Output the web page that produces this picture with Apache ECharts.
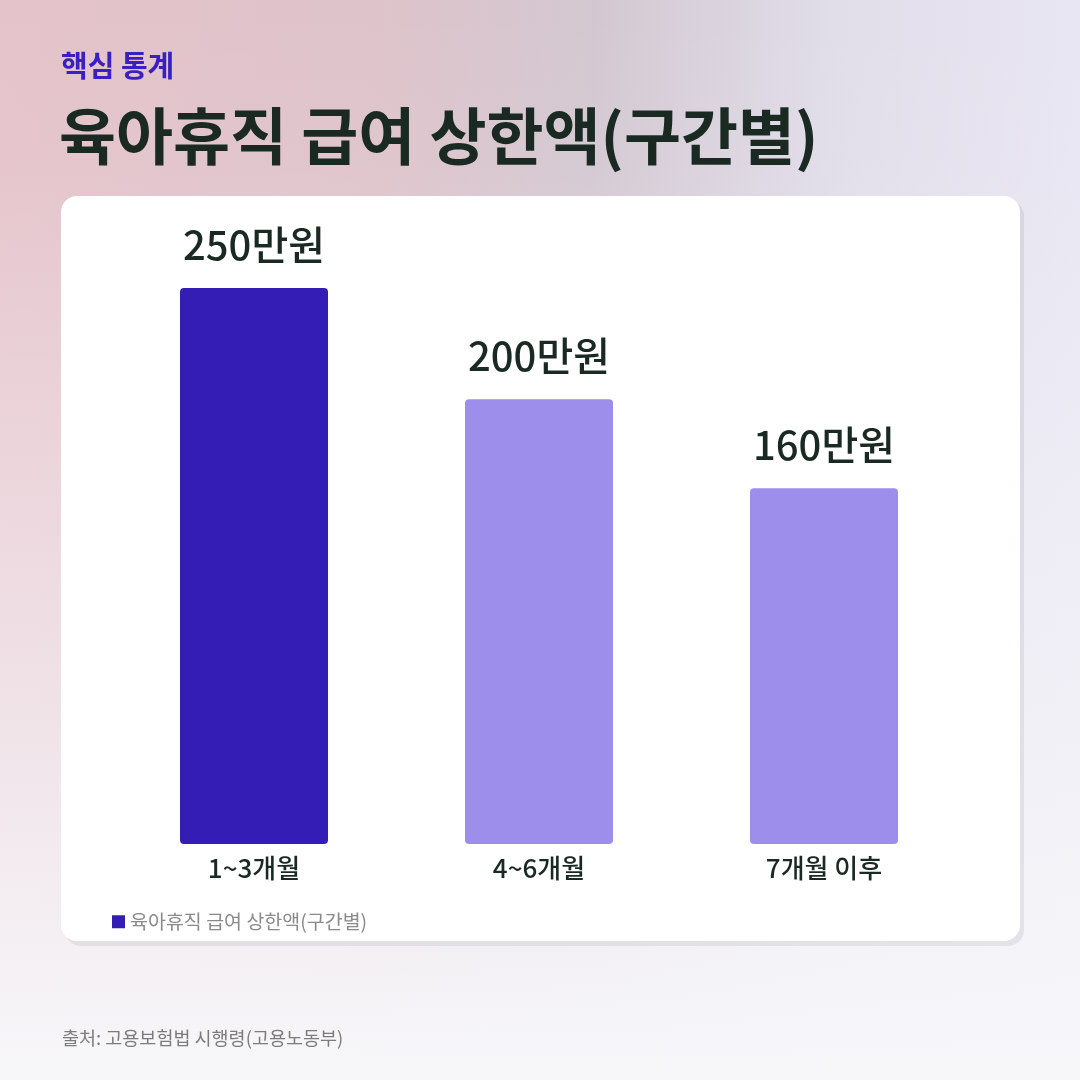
<!DOCTYPE html>
<html><head><meta charset="utf-8">
<script src="https://cdn.jsdelivr.net/npm/echarts@6/dist/echarts.min.js"></script>
<style>html,body{margin:0;padding:0;width:1080px;height:1080px;overflow:hidden}#c{width:1080px;height:1080px}</style>
</head><body><div id="c"></div>
<script>
const categories = ['1~3개월', '4~6개월', '7개월 이후'];
const values = [250, 200, 160];
const valueLabels = ['250만원', '200만원', '160만원'];
const seriesName = '육아휴직 급여 상한액(구간별)';
const kicker = '핵심 통계';
const titleText = '육아휴직 급여 상한액(구간별)';
const sourceText = '출처: 고용보험법 시행령(고용노동부)';

const FONT = '"Noto Sans CJK KR", "Noto Sans", sans-serif';
const DARK = '#1a2a22';
const barColors = ['#331db5', '#9c8eea', '#9c8eea'];

const chart = echarts.init(document.getElementById('c'));
chart.setOption({
  animation: false,
  textStyle: { fontFamily: FONT },
  graphic: [
    { type: 'rect', z: -10, shape: { x: 0, y: 0, width: 1080, height: 1080 },
      style: { fill: new echarts.graphic.LinearGradient(0, 0, 1, 0, [
        { offset: 0, color: '#e5c3ca' }, { offset: 0.35, color: '#dec3ca' }, { offset: 0.55, color: '#d3c8d1' },
        { offset: 0.78, color: '#e1deea' }, { offset: 1, color: '#e8e6f2' }]) } },
    { type: 'rect', z: -9, shape: { x: 0, y: 0, width: 1080, height: 1080 },
      style: { fill: new echarts.graphic.LinearGradient(0, 0, 0, 1, [
        { offset: 0, color: 'rgba(246,245,249,0)' }, { offset: 0.15, color: 'rgba(246,245,249,0.05)' },
        { offset: 0.5, color: 'rgba(246,245,249,0.45)' }, { offset: 1, color: 'rgba(247,247,250,1)' }]) } },
    { type: 'rect', z: -8, shape: { x: 65, y: 200, width: 959, height: 746, r: 16 },
      style: { fill: 'rgba(70,60,90,0.09)' } },
    { type: 'rect', z: -7, shape: { x: 61, y: 196, width: 959, height: 745, r: 16 },
      style: { fill: '#ffffff' } },
    { type: 'text', left: 61, top: 51, style: { text: kicker, font: 'bold 29px ' + FONT, fill: '#3a20c0' } },
    { type: 'text', left: 59, top: 105, style: { text: titleText, font: 'bold 62px ' + FONT, fill: DARK } },
    { type: 'text', left: 62, top: 1029, style: { text: sourceText, font: '18.5px ' + FONT, fill: '#7c7c7c' } }
  ],
  legend: {
    left: 107, top: 907, itemWidth: 13, itemHeight: 13, itemGap: 7, icon: 'rect',
    textStyle: { color: '#8a8a8a', fontSize: 19.5, fontFamily: FONT },
    data: [{ name: seriesName, itemStyle: { color: barColors[0] } }]
  },
  grid: { left: 111.5, right: 113.5, top: 288, bottom: 236, containLabel: false },
  xAxis: {
    type: 'category', data: categories,
    axisLine: { show: false }, axisTick: { show: false },
    axisLabel: { margin: 11, fontSize: 26, fontWeight: 500, color: DARK, fontFamily: FONT }
  },
  yAxis: { type: 'value', min: 0, max: 250, show: false, splitLine: { show: false } },
  series: [{
    name: seriesName, type: 'bar', barWidth: 148,
    data: values.map((v, i) => ({ value: v, itemStyle: { color: barColors[i] } })),
    itemStyle: { borderRadius: 4, color: barColors[0] },
    label: {
      show: true, position: 'top', distance: 23,
      formatter: p => valueLabels[p.dataIndex],
      fontSize: 40, fontWeight: 500, color: DARK, fontFamily: FONT
    }
  }]
});
</script></body></html>
